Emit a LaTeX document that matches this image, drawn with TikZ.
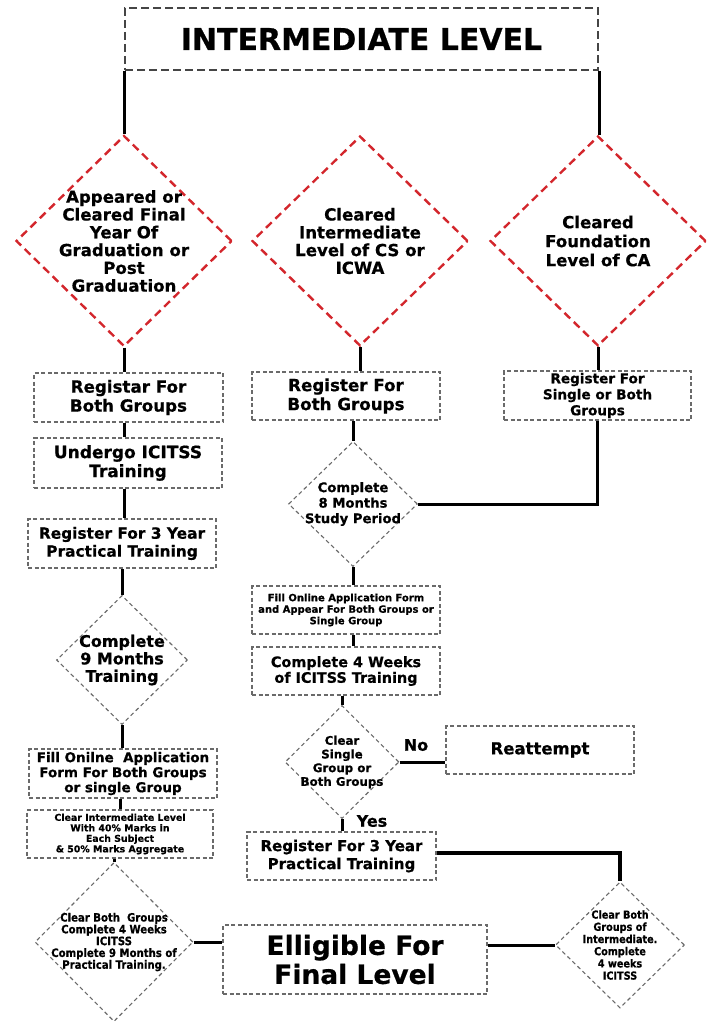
\documentclass[tikz,border=0pt]{standalone}
\usepackage{fontspec}
\setmainfont{DejaVu Sans}[BoldFeatures={FakeBold=0.6}]
\newfontfamily\condf{DejaVu Sans}[FakeStretch=0.88,BoldFeatures={FakeBold=0.6}]
\usetikzlibrary{shapes.geometric}
\definecolor{rd}{HTML}{D3262C}
\definecolor{bx}{HTML}{6A6A6A}
\definecolor{tb}{HTML}{454545}
\newcommand{\fsz}[2]{\fontsize{#1}{#2}\selectfont\bfseries}
\newcommand{\cfsz}[2]{\condf\fontsize{#1}{#2}\selectfont\bfseries}
\begin{document}
\begin{tikzpicture}[x=1pt,y=-1pt,
 pbox/.style={draw=bx, line width=1.3pt, dash pattern=on 4pt off 2.5pt, rectangle, inner sep=0pt, align=center, text=black},
 rdia/.style={diamond, draw=rd, line width=2.4pt, dash pattern=on 8pt off 5pt, inner sep=0pt},
 gdia/.style={diamond, draw=bx, line width=1.1pt, dash pattern=on 4pt off 3pt, inner sep=0pt},
 dtxt/.style={inner sep=0pt, align=center, text=black},
 conn/.style={line width=3pt, black},
]
\useasboundingbox (0,0) rectangle (724,1024);

% title
\node[pbox, draw=tb, line width=2pt, dash pattern=on 8pt off 4pt, minimum width=473pt, minimum height=62pt, font=\fsz{30}{32}] (title) at (361.5,39) {INTERMEDIATE LEVEL};

% top diamonds
\node[rdia, minimum width=216pt, minimum height=211pt] (d1) at (124,241) {};
\node[dtxt, font=\fsz{16.6}{17.8}] (d1t) at (d1.center) {Appeared or\\Cleared Final\\Year Of\\Graduation or\\Post\\Graduation};
\node[rdia, minimum width=216pt, minimum height=210pt] (d2) at (360,241) {};
\node[dtxt, font=\fsz{16.6}{17.8}] (d2t) at (d2.center) {Cleared\\Intermediate\\Level of CS or\\ICWA};
\node[rdia, minimum width=216pt, minimum height=210pt] (d3) at (598,241) {};
\node[dtxt, font=\fsz{16.6}{19}] (d3t) at (d3.center) {Cleared\\Foundation\\Level of CA};

% left column
\node[pbox, minimum width=189pt, minimum height=49pt, font=\fsz{16.7}{19}] (b1) at (128.5,397.5) {Registar For\\Both Groups};
\node[pbox, minimum width=188pt, minimum height=50pt, font=\fsz{17}{19}] (b2) at (128,463) {Undergo ICITSS\\Training};
\node[pbox, minimum width=188pt, minimum height=49pt, font=\fsz{15.4}{18}] (b3) at (122,543.5) {Register For 3 Year\\Practical Training};
\node[gdia, minimum width=131pt, minimum height=129pt] (d4) at (122,660) {};
\node[dtxt, font=\fsz{16}{17.5}] (d4t) at (d4.center) {Complete\\9 Months\\Training};
\node[pbox, minimum width=188pt, minimum height=49pt, font=\fsz{13.5}{15}] (b4) at (123,773.5) {Fill Onilne\ \ Application\\Form For Both Groups\\or single Group};
\node[pbox, minimum width=186pt, minimum height=48pt, font=\fsz{9.4}{10.5}] (b5) at (120,834) {Clear Intermediate Level\\With 40\% Marks in\\Each Subject\\\& 50\% Marks Aggregate};
\node[gdia, minimum width=158pt, minimum height=159pt] (d5) at (114,942) {};
\node[dtxt, font=\cfsz{11.5}{11.8}] (d5t) at (d5.center) {Clear Both\ \ Groups\\Complete 4 Weeks\\ICITSS\\Complete 9 Months of\\Practical Training.};

% middle column
\node[pbox, minimum width=188pt, minimum height=48pt, font=\fsz{16.7}{19}] (b6) at (346,396) {Register For\\Both Groups};
\node[gdia, minimum width=129pt, minimum height=125pt] (d6) at (353,504) {};
\node[dtxt, font=\fsz{13.2}{15.5}] (d6t) at (d6.center) {Complete\\8 Months\\Study Period};
\node[pbox, minimum width=188pt, minimum height=48pt, font=\fsz{10}{11.5}] (b8) at (346,610) {Fill Online Application Form\\and Appear For Both Groups or\\Single Group};
\node[pbox, minimum width=188pt, minimum height=48pt, font=\fsz{14.4}{15.7}] (b9) at (346,671) {Complete 4 Weeks\\of ICITSS Training};
\node[gdia, minimum width=114pt, minimum height=113pt] (d7) at (342,762) {};
\node[dtxt, font=\fsz{11.8}{13.7}] (d7t) at (d7.center) {Clear\\Single\\Group or\\Both Groups};
\node[pbox, minimum width=188pt, minimum height=48pt, font=\fsz{16.5}{19}] (re) at (540,750) {Reattempt};
\node[pbox, minimum width=189pt, minimum height=48pt, font=\fsz{15}{18}] (b10) at (341.5,856) {Register For 3 Year\\Practical Training};

% right column
\node[pbox, minimum width=187pt, minimum height=49pt, font=\fsz{13.6}{16}] (b7) at (597.5,395.5) {Register For\\Single or Both\\Groups};
\node[gdia, minimum width=129pt, minimum height=126pt] (d8) at (620,945) {};
\node[dtxt, font=\cfsz{11}{12.2}] (d8t) at (d8.center) {Clear Both\\Groups of\\Intermediate.\\Complete\\4 weeks\\ICITSS};

% final
\node[pbox, minimum width=264pt, minimum height=69pt, font=\fsz{26.5}{29}] (fin) at (355,959.5) {Elligible For\\Final Level};

% labels
\node[dtxt, font=\fsz{16}{18}] (no) at (416,745) {No};
\node[dtxt, font=\fsz{16}{18}] (yes) at (372,821) {Yes};

% connectors
\draw[conn] (title.south west) -- (title.south west |- d1.north);
\draw[conn] (title.south east) -- (title.south east |- d3.north);
\draw[conn] (d1.south) -- (d1.south |- b1.north);
\draw[conn] (d1.south |- b1.south) -- (d1.south |- b2.north);
\draw[conn] (d1.south |- b2.south) -- (d1.south |- b3.north);
\draw[conn] (d4.north) -- (d4.north |- b3.south);
\draw[conn] (d4.south) -- (d4.south |- b4.north);
\draw[conn] (b5.north) -- (b5.north |- b4.south);
\draw[conn] (d5.north) -- (d5.north |- b5.south);
\draw[conn] (d5.east) -- (d5.east -| fin.west);
\draw[conn] (fin.east |- d8.west) -- (d8.west);
\draw[conn] (d2.south) -- (d2.south |- b6.north);
\draw[conn] (d6.north) -- (d6.north |- b6.south);
\draw[conn] (d6.east) -- (d6.east -| b7.south) -- (b7.south);
\draw[conn] (d3.south) -- (d3.south |- b7.north);
\draw[conn] (d6.south) -- (d6.south |- b8.north);
\draw[conn] (d6.south |- b8.south) -- (d6.south |- b9.north);
\draw[conn] (d7.north) -- (d7.north |- b9.south);
\draw[conn] (d7.east) -- (d7.east -| re.west);
\draw[conn] (d7.south) -- (d7.south |- b10.north);
\draw[conn, line width=4.5pt] (b10.east |- 0,853) -- (d8.north |- 0,853) -- (d8.north);
\end{tikzpicture}
\end{document}
